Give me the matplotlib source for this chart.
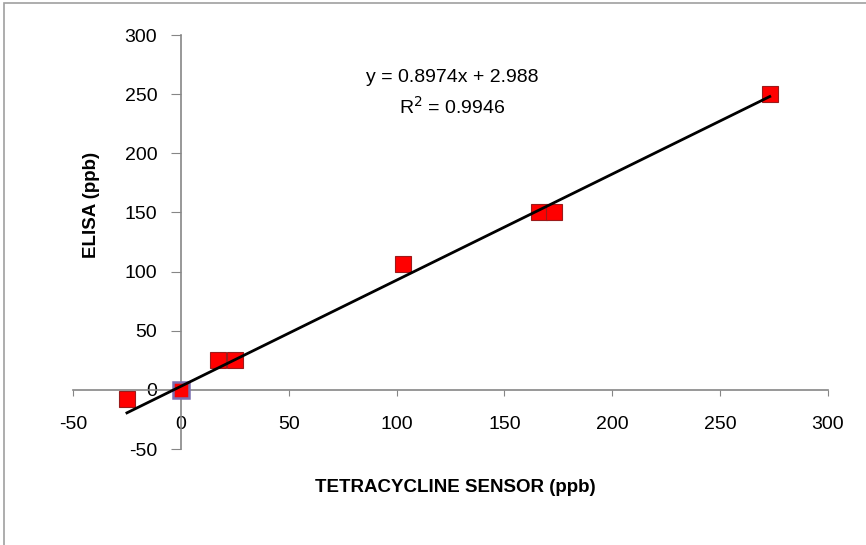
import numpy as np
import matplotlib.pyplot as plt
from matplotlib.patches import Rectangle

# datos
sensor = [-25, 17, 25, 103, 166, 173, 273]
elisa = [-8, 25, 25, 106, 150, 150, 250]
origen_x = [0]
origen_y = [0]
pendiente = 0.8974
intercepto = 2.988
r2 = 0.9946

plt.rcParams['font.family'] = ['Liberation Sans', 'DejaVu Sans']
plt.rcParams['axes.unicode_minus'] = False

fig = plt.figure(figsize=(8.66, 5.45), dpi=100)
ax = fig.add_axes([73 / 866, 1 - 449 / 545, (828 - 73) / 866, (449 - 35) / 545])

# borde del grafico (estilo Excel)
fig.patches.append(Rectangle((4 / 866, -0.1), 1.2, 1.1 - 3 / 545, transform=fig.transFigure,
                             fill=False, edgecolor='#a0a0a0', linewidth=1.2))

# linea de tendencia
xs = np.array([min(sensor), max(sensor)])
ax.plot(xs, pendiente * xs + intercepto, color='black', linewidth=2, zorder=5)

ax.plot(sensor, elisa, 's', markersize=11, markerfacecolor='#ff0000',
        markeredgecolor='#9b1b1b', markeredgewidth=0.8, zorder=4)
ax.plot(origen_x, origen_y, 's', markersize=11, markerfacecolor='#ff0000',
        markeredgecolor='#7b6fb0', markeredgewidth=1.8, zorder=4)

ax.set_xlim(-50, 300)
ax.set_ylim(-50, 300)
ax.set_xticks(np.arange(-50, 301, 50))
ax.set_yticks(np.arange(-50, 301, 50))

ax.spines['left'].set_position(('data', 0))
ax.spines['bottom'].set_position(('data', 0))
ax.spines['top'].set_visible(False)
ax.spines['right'].set_visible(False)
for s in ['left', 'bottom']:
    ax.spines[s].set_color('#868686')
    ax.spines[s].set_linewidth(1.2)

ax.tick_params(axis='x', direction='out', length=4, color='#868686', pad=15, labelsize=14)
ax.tick_params(axis='y', direction='out', length=7, color='#868686', pad=10, labelsize=14)

fig.text(452 / 866, 1 - 77 / 545, f'y = {pendiente}x + {intercepto}',
         ha='center', va='center', fontsize=14)
fig.text(452 / 866, 1 - 107 / 545, f'R$^2$ = {r2}',
         ha='center', va='center', fontsize=14)

fig.text(455 / 866, 1 - 488 / 545, 'TETRACYCLINE SENSOR (ppb)', ha='center', va='center',
         fontsize=13.5, fontweight='bold')
fig.text(92 / 866, 1 - 205 / 545, 'ELISA (ppb)', ha='center', va='center', rotation=90,
         fontsize=13.5, fontweight='bold')

fig.savefig('out.png', dpi=100)
